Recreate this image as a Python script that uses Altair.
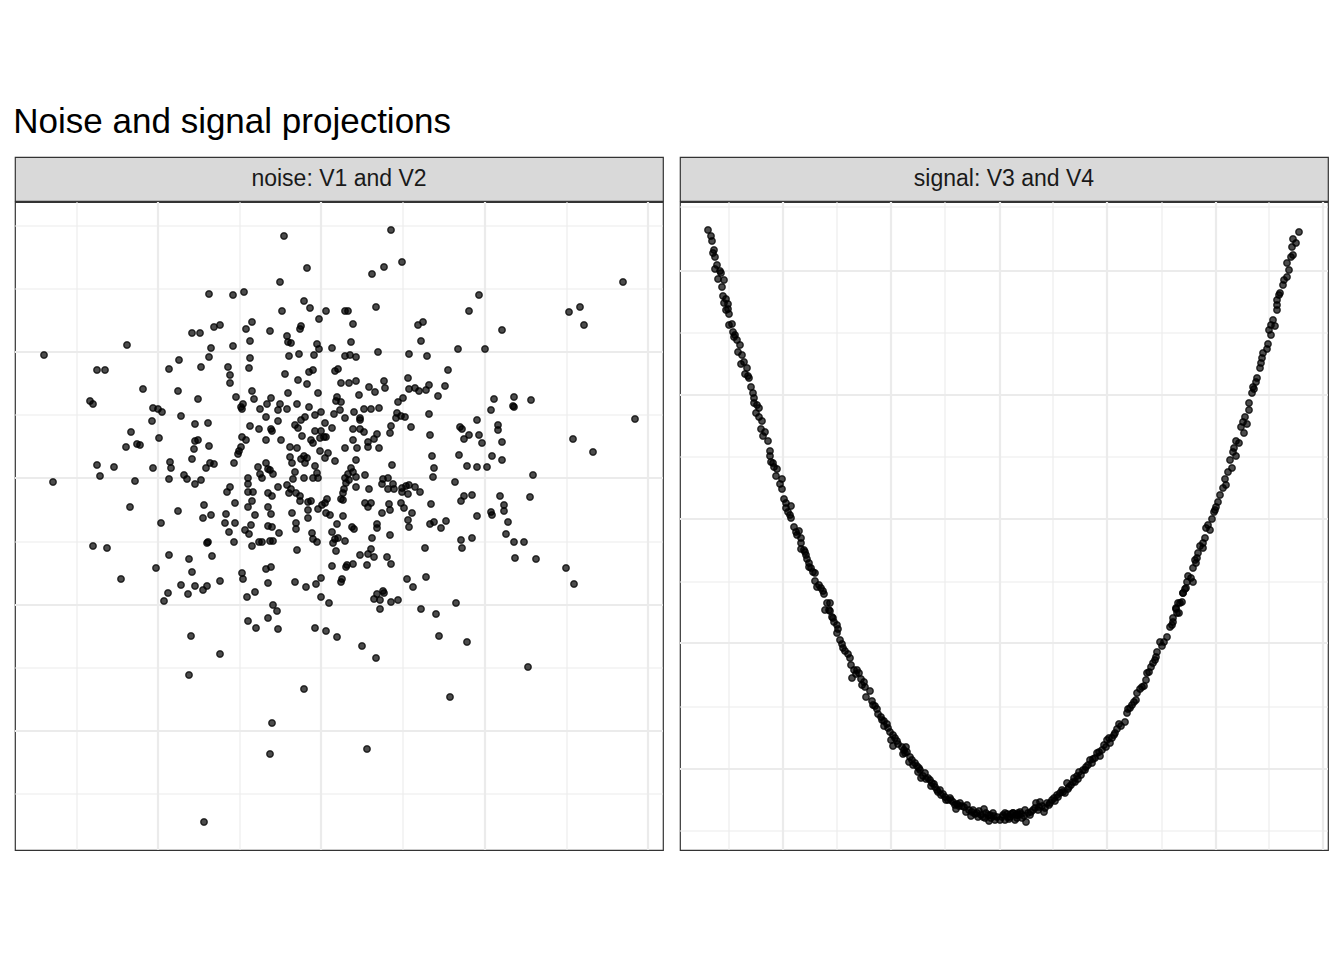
import altair as alt
import pandas as pd

TITLE = "Noise and signal projections"
STRIP_NOISE = "noise: V1 and V2"
STRIP_SIGNAL = "signal: V3 and V4"

# (V1, V2)
NOISE_POINTS = [
    (-1.12, 1.84), (-1.29, 1.45), (-1.21, 1.45), (-1.07, 1.51), (-1.01, 1.53), (-1.10, 1.30),
    (-1.94, 1.33), (-2.77, 1.23), (-1.42, 1.18), (-1.12, 1.21), (-2.24, 1.08), (-2.16, 1.08),
    (-1.52, 1.09), (-1.20, 1.11), (-0.93, 1.11), (-0.91, 1.03), (-0.91, 0.95), (-1.78, 0.89),
    (-1.43, 0.87), (-1.23, 0.79), (-2.31, 0.77), (-2.28, 0.74), (-1.68, 0.70), (-1.63, 0.69),
    (-1.59, 0.66), (-1.40, 0.62), (-1.69, 0.57), (-1.26, 0.54), (-1.13, 0.55), (-1.90, 0.46),
    (-1.62, 0.40), (-1.84, 0.34), (-1.81, 0.33), (-1.95, 0.31), (-1.26, 0.37), (-1.23, 0.38),
    (-1.27, 0.29), (-1.12, 0.32), (-2.24, 0.13), (-2.07, 0.11), (-2.21, 0.02), (-1.68, 0.10),
    (-1.51, 0.16), (-1.50, 0.10), (-1.29, 0.19), (-1.11, 0.15), (-1.07, 0.14), (-1.15, 0.10),
    (-2.68, -0.04), (-1.86, -0.03), (-1.52, -0.01), (-1.37, 0.03), (-1.34, -0.01), (-1.26, -0.06),
    (-1.20, -0.02), (-0.94, -0.14), (-0.91, -0.09), (-1.91, -0.29), (-1.43, -0.33), (-1.17, -0.27),
    (-1.18, -0.40), (-1.10, -0.37), (-0.95, -0.36), (-1.60, -0.45), (-0.96, -0.45),
    (-0.37, 2.42), (0.70, 2.48), (-0.14, 2.10), (-0.41, 1.96), (0.51, 2.04), (0.63, 2.11),
    (0.81, 2.16), (-0.88, 1.83), (-0.77, 1.86), (-0.17, 1.77), (-0.11, 1.70), (-0.39, 1.67),
    (0.05, 1.67), (0.24, 1.67), (0.27, 1.67), (0.55, 1.71), (-0.02, 1.59), (0.32, 1.54),
    (-0.75, 1.49), (-0.69, 1.56), (-0.51, 1.47), (-0.20, 1.52), (-0.21, 1.49), (0.97, 1.53),
    (1.02, 1.56), (-0.71, 1.37), (-0.34, 1.42), (-0.33, 1.36), (-0.30, 1.35), (-0.04, 1.34),
    (-0.02, 1.29), (0.11, 1.30), (0.30, 1.36), (1.00, 1.37), (-0.88, 1.32), (-0.32, 1.22),
    (-0.22, 1.24), (-0.07, 1.23), (0.24, 1.22), (0.29, 1.23), (0.35, 1.21), (0.57, 1.26),
    (0.88, 1.24), (1.06, 1.22), (-0.71, 1.20), (-0.72, 1.10), (-0.36, 1.04), (-0.12, 1.06),
    (-0.08, 1.08), (0.14, 1.07), (0.17, 1.09), (-0.23, 0.98), (-0.14, 0.94), (0.20, 0.95),
    (0.28, 0.95), (0.35, 0.97), (0.48, 0.91), (0.54, 0.86), (0.63, 0.97), (0.64, 0.90),
    (0.87, 1.00), (0.88, 0.89), (0.94, 0.90), (0.98, 0.87), (1.05, 0.88), (1.08, 0.93),
    (1.17, 0.82), (-0.69, 0.87), (-0.67, 0.79), (-0.85, 0.81), (-0.78, 0.74), (-0.80, 0.71),
    (-0.79, 0.69), (-0.33, 0.85), (-0.03, 0.85), (-0.50, 0.80), (-0.54, 0.74), (-0.61, 0.69),
    (-0.41, 0.74), (-0.43, 0.68), (-0.34, 0.69), (-0.24, 0.74), (-0.12, 0.71), (0.16, 0.81),
    (0.15, 0.77), (0.20, 0.76), (0.19, 0.68), (0.38, 0.83), (0.33, 0.66), (0.43, 0.69),
    (0.50, 0.69), (0.58, 0.70), (0.77, 0.76), (0.82, 0.80), (1.08, 0.64), (-0.55, 0.61),
    (-0.43, 0.57), (-0.20, 0.58), (-0.16, 0.61), (-0.06, 0.63), (0.00, 0.66), (0.13, 0.64),
    (0.24, 0.60), (0.39, 0.60), (0.39, 0.58), (0.75, 0.60), (0.76, 0.65), (0.80, 0.62),
    (0.84, 0.61), (-0.71, 0.52), (-0.62, 0.49), (-0.50, 0.49), (-0.49, 0.47), (-0.26, 0.53),
    (-0.23, 0.50), (-0.06, 0.47), (0.00, 0.47), (0.04, 0.55), (0.11, 0.50), (0.32, 0.49),
    (0.39, 0.49), (0.43, 0.46), (0.70, 0.52), (0.69, 0.45), (0.90, 0.51), (1.09, 0.43),
    (-0.79, 0.41), (-0.75, 0.38), (-0.55, 0.38), (-0.40, 0.38), (-0.19, 0.42), (-0.10, 0.38),
    (-0.08, 0.35), (-0.01, 0.40), (0.05, 0.41), (0.03, 0.41), (0.32, 0.38), (0.47, 0.36),
    (0.47, 0.31), (0.53, 0.39), (0.56, 0.44), (0.58, 0.30), (-0.80, 0.31), (-0.82, 0.27),
    (-0.83, 0.24), (-0.87, 0.15), (-0.31, 0.31), (-0.24, 0.30), (0.24, 0.30), (0.36, 0.30),
    (-0.01, 0.27), (0.07, 0.25), (-0.31, 0.21), (-0.29, 0.15), (-0.20, 0.19), (-0.17, 0.22),
    (-0.14, 0.20), (-0.16, 0.15), (-0.06, 0.12), (0.04, 0.20), (0.14, 0.17), (0.35, 0.18),
    (0.71, 0.13), (1.11, 0.22), (1.13, 0.10), (-0.63, 0.11), (-0.61, 0.04), (-0.59, 0.00),
    (-0.55, 0.15), (-0.53, 0.09), (-0.51, 0.08), (-0.48, 0.04), (-0.26, 0.06), (-0.28, -0.01),
    (-0.17, 0.00), (-0.08, 0.00), (-0.04, 0.05), (-0.03, 0.00), (0.24, 0.00), (0.27, 0.04),
    (0.30, 0.10), (0.32, 0.06), (0.35, 0.01), (0.44, 0.03), (0.28, -0.02), (0.25, -0.05),
    (0.23, -0.11), (0.22, -0.15), (0.22, -0.22), (0.35, -0.09), (0.48, -0.11), (0.62, -0.01),
    (0.67, 0.00), (0.61, -0.06), (0.72, -0.06), (0.73, -0.11), (0.67, -0.11), (0.81, -0.10),
    (0.85, -0.08), (0.88, -0.07), (0.87, -0.16), (0.81, -0.14), (0.94, -0.09), (0.99, -0.14),
    (1.12, 0.01), (-0.73, 0.00), (-0.73, -0.06), (-0.73, -0.14), (-0.68, -0.14), (-0.69, -0.23),
    (-0.86, -0.25), (-0.73, -0.29), (-0.66, -0.37), (-0.53, -0.15), (-0.49, -0.18), (-0.43, -0.09),
    (-0.34, -0.07), (-0.32, -0.15), (-0.30, -0.11), (-0.25, -0.15), (-0.21, -0.18), (-0.21, -0.23),
    (-0.13, -0.24), (-0.10, -0.23), (-0.03, -0.31), (0.01, -0.27), (0.04, -0.25), (0.06, -0.21),
    (0.05, -0.35), (0.09, -0.37), (0.20, -0.21), (0.22, -0.38), (0.44, -0.25), (0.47, -0.29),
    (0.50, -0.25), (0.61, -0.35), (0.68, -0.26), (0.69, -0.32), (0.80, -0.25), (0.83, -0.30),
    (0.91, -0.35), (1.10, -0.26), (-0.53, -0.29), (-0.50, -0.36), (-0.29, -0.35), (-0.13, -0.32),
    (-0.13, -0.40),
    (3.02, 1.96), (1.58, 1.83), (1.48, 1.67), (2.48, 1.66), (2.59, 1.71), (2.63, 1.53),
    (1.81, 1.48), (1.37, 1.29), (1.64, 1.29), (1.27, 1.08), (1.24, 0.92), (1.73, 0.79),
    (1.93, 0.81), (1.92, 0.72), (1.93, 0.71), (2.10, 0.78), (1.70, 0.68), (3.14, 0.59),
    (1.56, 0.58), (1.39, 0.51), (1.41, 0.49), (1.77, 0.53), (1.77, 0.48), (1.48, 0.43),
    (1.58, 0.43), (1.43, 0.39), (1.61, 0.35), (1.81, 0.36), (2.52, 0.39), (2.72, 0.26),
    (1.38, 0.23), (1.71, 0.22), (1.81, 0.18), (1.46, 0.12), (1.56, 0.11), (1.66, 0.11),
    (2.12, 0.03), (1.34, -0.04), (1.43, -0.18), (1.51, -0.17), (1.40, -0.23), (1.79, -0.18),
    (2.09, -0.19), (1.83, -0.27), (1.83, -0.33), (1.70, -0.34), (1.71, -0.37), (1.56, -0.38),
    (1.87, -0.44), (1.25, -0.43),
    (-0.92, -0.54), (-2.28, -0.68), (-2.14, -0.70), (-1.14, -0.65), (-1.13, -0.64), (-1.09, -0.78),
    (-1.52, -0.77), (-1.32, -0.81), (-1.65, -0.90), (-1.29, -0.94), (-2.00, -1.01), (-1.01, -1.03),
    (-1.40, -1.07), (-1.26, -1.08), (-1.14, -1.08), (-1.18, -1.12), (-1.53, -1.15), (-1.33, -1.16),
    (-1.57, -1.23), (-1.30, -1.58), (-1.01, -1.76), (-1.32, -1.97), (-1.17, -3.44),
    (-0.86, -0.45), (-0.70, -0.47), (-0.76, -0.52), (-0.72, -0.56), (-0.53, -0.48), (-0.49, -0.49),
    (-0.42, -0.55), (-0.25, -0.45), (-0.25, -0.51), (-0.09, -0.55), (0.11, -0.54), (0.16, -0.46),
    (0.31, -0.49), (0.33, -0.51), (0.56, -0.46), (0.56, -0.50), (0.69, -0.57), (0.88, -0.49),
    (0.87, -0.42), (1.09, -0.46), (1.13, -0.44), (1.20, -0.50), (-0.87, -0.64), (-0.69, -0.68),
    (-0.62, -0.64), (-0.59, -0.64), (-0.51, -0.63), (-0.48, -0.63), (-0.24, -0.72), (-0.08, -0.61),
    (-0.04, -0.64), (0.12, -0.65), (0.14, -0.61), (0.17, -0.60), (0.24, -0.63), (0.15, -0.73),
    (0.51, -0.60), (0.39, -0.77), (0.47, -0.76), (0.50, -0.71), (0.53, -0.79), (0.66, -0.79),
    (0.70, -0.86), (0.46, -0.87), (0.32, -0.86), (0.25, -0.89), (0.26, -0.87), (0.11, -0.88),
    (1.04, -0.70), (1.05, -0.99), (0.86, -1.01), (0.92, -1.09), (-0.79, -0.95), (-0.78, -1.01),
    (-0.55, -0.91), (-0.50, -0.89), (-0.53, -1.05), (-0.26, -1.04), (-0.15, -1.09), (-0.05, -1.06),
    (0.00, -1.00), (0.21, -1.01), (0.20, -1.04), (-0.74, -1.19), (-0.66, -1.14), (0.00, -1.19),
    (0.08, -1.25), (0.53, -1.21), (0.56, -1.16), (0.62, -1.13), (0.63, -1.15), (0.59, -1.22),
    (0.70, -1.24), (0.77, -1.22), (0.59, -1.31), (-0.48, -1.27), (-0.44, -1.33), (-0.53, -1.40),
    (-0.73, -1.43), (-0.65, -1.50), (-0.43, -1.51), (-0.06, -1.50), (0.05, -1.53), (0.16, -1.59),
    (0.41, -1.68), (0.55, -1.80), (1.00, -1.31), (1.15, -1.36), (1.18, -1.58), (-0.17, -2.11),
    (-0.49, -2.45), (-0.51, -2.76), (0.46, -2.71),
    (1.85, -0.56), (1.40, -0.62), (1.51, -0.60), (1.41, -0.70), (1.93, -0.64), (2.03, -0.64),
    (1.94, -0.80), (2.15, -0.81), (2.45, -0.90), (2.53, -1.06), (1.35, -1.25), (1.46, -1.64),
    (2.07, -1.89), (1.29, -2.19),
]

# (V3, V4)
SIGNAL_POINTS = [
    (-2.92, 6.20), (-2.89, 6.14), (-2.88, 6.09), (-2.86, 6.00), (-2.87, 5.97), (-2.85, 5.93),
    (-2.85, 5.81), (-2.80, 5.79), (-2.79, 5.77), (-2.82, 5.71), (-2.76, 5.70), (-2.78, 5.63),
    (-2.77, 5.54), (-2.74, 5.51), (-2.76, 5.47), (-2.72, 5.46), (-2.72, 5.41), (-2.71, 5.36),
    (-2.71, 5.25), (-2.68, 5.26), (-2.67, 5.18), (-2.65, 5.15), (-2.63, 5.10), (-2.60, 5.05),
    (-2.62, 4.98), (-2.58, 4.95), (-2.59, 4.86), (-2.53, 4.82), (-2.55, 4.76), (-2.51, 4.72),
    (-2.49, 4.63), (-2.47, 4.57), (-2.46, 4.52), (-2.46, 4.47), (-2.41, 4.42), (-2.44, 4.37),
    (-2.41, 4.33), (-2.38, 4.29), (-2.39, 4.21), (-2.37, 4.14), (-2.32, 4.09), (-2.30, 3.99),
    (-2.30, 3.94), (-2.29, 3.88), (-2.27, 3.87), (-2.23, 3.81), (-2.24, 3.74), (-2.18, 3.71),
    (-2.18, 3.61), (-2.16, 3.51), (-2.14, 3.47), (-2.09, 3.44), (-2.14, 3.42), (-2.10, 3.35),
    (-2.09, 3.32), (-2.06, 3.23), (-2.01, 3.19), (-2.04, 3.18), (-1.99, 3.12), (-1.99, 3.07),
    (-1.96, 3.00), (-1.99, 3.01), (-1.94, 2.95), (-1.93, 2.91), (-1.91, 2.87), (-1.91, 2.83),
    (-1.87, 2.78), (-1.85, 2.77), (-1.85, 2.69), (-1.83, 2.63), (-1.79, 2.62), (-1.77, 2.59),
    (-1.76, 2.56), (-1.73, 2.47), (-1.75, 2.40), (-1.71, 2.40), (-1.68, 2.33),
    (-1.70, 2.47), (-1.70, 2.39), (-1.67, 2.32), (-1.66, 2.28), (-1.63, 2.25), (-1.62, 2.21),
    (-1.63, 2.17), (-1.60, 2.10), (-1.57, 2.02), (-1.55, 1.99), (-1.52, 1.96), (-1.49, 1.85),
    (-1.46, 1.80), (-1.43, 1.80), (-1.41, 1.77), (-1.48, 1.72), (-1.39, 1.71), (-1.38, 1.65),
    (-1.35, 1.63), (-1.30, 1.59), (-1.34, 1.53), (-1.28, 1.49), (-1.27, 1.45), (-1.23, 1.41),
    (-1.22, 1.36), (-1.19, 1.33), (-1.16, 1.29), (-1.13, 1.26), (-1.10, 1.18), (-1.07, 1.15),
    (-1.07, 1.04), (-1.02, 1.06), (-0.98, 1.03), (-0.94, 1.03), (-0.95, 0.97), (-0.90, 0.93),
    (-0.91, 0.88), (-0.85, 0.87), (-0.83, 0.84), (-0.82, 0.78), (-0.79, 0.72), (-0.75, 0.77),
    (-0.72, 0.72), (-0.68, 0.67), (-0.65, 0.63), (-0.62, 0.58), (-0.59, 0.55), (-0.55, 0.53),
    (-0.52, 0.50), (-0.47, 0.48), (-0.43, 0.46), (-0.40, 0.47), (-0.36, 0.43), (-0.33, 0.45),
    (-0.29, 0.34), (-0.27, 0.40), (-0.23, 0.37), (-0.21, 0.39), (-0.16, 0.41), (-0.17, 0.33),
    (-0.11, 0.29), (-0.12, 0.35), (-0.07, 0.37), (-0.03, 0.33), (0.00, 0.30), (0.03, 0.35),
    (0.08, 0.33), (0.13, 0.37), (0.17, 0.32), (0.18, 0.37),
    (0.02, 0.33), (0.05, 0.37), (0.10, 0.33), (0.13, 0.37), (0.18, 0.35), (0.22, 0.32),
    (0.26, 0.28), (0.25, 0.40), (0.30, 0.35), (0.33, 0.40), (0.36, 0.47), (0.40, 0.48),
    (0.44, 0.38), (0.47, 0.47), (0.52, 0.50), (0.55, 0.49), (0.58, 0.53), (0.62, 0.60),
    (0.65, 0.57), (0.67, 0.67), (0.71, 0.65), (0.75, 0.68), (0.78, 0.71), (0.79, 0.78),
    (0.83, 0.80), (0.88, 0.85), (0.92, 0.87), (0.97, 0.97), (1.00, 0.94), (1.02, 1.00),
    (1.06, 1.03), (1.07, 1.10), (1.10, 1.07), (1.15, 1.17), (1.17, 1.21), (1.19, 1.26),
    (1.25, 1.28), (1.27, 1.37), (1.28, 1.41), (1.32, 1.45), (1.36, 1.50), (1.37, 1.57),
    (1.40, 1.61), (1.44, 1.64), (1.46, 1.70), (1.47, 1.77), (1.51, 1.83), (1.53, 1.87),
    (1.56, 1.93), (1.57, 1.98), (1.62, 2.04), (1.60, 2.08), (1.67, 2.13), (1.70, 2.23),
    (1.73, 2.28), (1.77, 2.37), (1.76, 2.42), (1.80, 2.47), (1.83, 2.57), (1.85, 2.61),
    (1.87, 2.68),
    (2.99, 6.18), (2.93, 6.11), (2.96, 6.07), (2.92, 6.03), (2.93, 5.95), (2.91, 5.93),
    (2.87, 5.87), (2.87, 5.73), (2.84, 5.70), (2.83, 5.65), (2.80, 5.57), (2.77, 5.50),
    (2.77, 5.45), (2.77, 5.40), (2.73, 5.30), (2.71, 5.25), (2.75, 5.24), (2.71, 5.15),
    (2.68, 5.06), (2.67, 5.01), (2.63, 4.97), (2.61, 4.87), (2.60, 4.82), (2.57, 4.72),
    (2.56, 4.68), (2.54, 4.61), (2.52, 4.57), (2.49, 4.47), (2.49, 4.40), (2.45, 4.33),
    (2.47, 4.26), (2.41, 4.23), (2.44, 4.17), (2.36, 4.09), (2.39, 4.07), (2.34, 4.02),
    (2.36, 3.94), (2.30, 3.90), (2.32, 3.82), (2.28, 3.78), (2.25, 3.71), (2.26, 3.65),
    (2.20, 3.55), (2.18, 3.48), (2.16, 3.43), (2.14, 3.38), (2.12, 3.31), (2.06, 3.22),
    (2.10, 3.20), (2.05, 3.12), (2.03, 3.07), (2.03, 3.02), (1.98, 2.97), (1.97, 2.92),
    (1.96, 2.87), (1.93, 2.82), (1.91, 2.72), (1.93, 2.68), (1.86, 2.62), (1.83, 2.57),
    (1.82, 2.48), (1.78, 2.47), (1.76, 2.41), (1.79, 2.37), (1.73, 2.32),
    (-1.58, 2.06), (-1.50, 1.92), (-1.44, 1.76), (-1.36, 1.68), (-1.25, 1.44), (-1.18, 1.30),
    (-1.12, 1.22), (-1.05, 1.12), (-0.96, 1.00), (-0.88, 0.90), (-0.80, 0.80), (-0.77, 0.74),
    (-0.70, 0.70), (-0.63, 0.60), (-0.57, 0.56), (-0.50, 0.52), (-0.45, 0.45), (-0.38, 0.44),
    (-0.31, 0.40), (-0.25, 0.36), (-0.19, 0.35), (-0.14, 0.37), (-0.09, 0.32), (-0.05, 0.30),
    (0.05, 0.30), (0.11, 0.36), (0.15, 0.30), (0.20, 0.38), (0.28, 0.37), (0.35, 0.42),
    (0.38, 0.40), (0.42, 0.44), (0.49, 0.45), (0.57, 0.55), (0.60, 0.57), (0.69, 0.63),
    (0.73, 0.68), (0.81, 0.75), (0.86, 0.83), (0.90, 0.90), (0.95, 0.92), (1.04, 1.05),
    (1.12, 1.12), (1.21, 1.24), (1.30, 1.42), (1.34, 1.48), (1.42, 1.63), (1.49, 1.78),
    (1.55, 1.90), (1.64, 2.08), (1.72, 2.25),
    (-2.83, 5.85), (-2.74, 5.40), (-2.66, 5.13), (-2.56, 4.88), (-2.52, 4.74), (-2.43, 4.45),
    (-2.35, 4.18), (-2.26, 3.83), (-2.20, 3.66), (-2.12, 3.38), (-2.03, 3.15), (-1.95, 2.98),
    (-1.89, 2.82), (-1.81, 2.65),
    (2.89, 5.80), (2.79, 5.55), (2.69, 5.20), (2.62, 4.92), (2.53, 4.63), (2.43, 4.28),
    (2.33, 3.98), (2.23, 3.62), (2.15, 3.40), (2.08, 3.25), (2.00, 3.04), (1.95, 2.90),
    (1.88, 2.74),
    (-1.16, 1.24), (-1.09, 1.10), (-1.03, 1.09), (-0.97, 0.96), (-0.93, 0.98), (-0.87, 0.85),
    (-0.81, 0.82), (-0.74, 0.71), (-0.69, 0.64), (-0.66, 0.66), (-0.60, 0.60), (-0.54, 0.50),
    (-0.49, 0.50), (-0.44, 0.41), (-0.41, 0.44), (-0.34, 0.38), (-0.28, 0.38), (-0.22, 0.33),
    (-0.15, 0.32), (-0.10, 0.35), (-0.06, 0.34), (0.07, 0.36), (0.09, 0.31), (0.16, 0.35),
    (0.21, 0.36), (0.24, 0.34), (0.31, 0.38), (0.39, 0.43), (0.45, 0.42), (0.50, 0.47),
    (0.54, 0.52), (0.63, 0.58), (0.68, 0.61), (0.74, 0.72), (0.77, 0.74), (0.85, 0.80),
    (0.93, 0.91), (0.99, 0.98), (1.09, 1.12), (1.14, 1.15),
]

# panel scale limits and grid breaks (free scales per panel)
NOISE_X_DOMAIN = [-3.06, 3.42]
NOISE_Y_DOMAIN = [-3.72, 2.76]
NOISE_X_MAJOR = [-1.63, 0.0, 1.64, 3.27]
NOISE_X_MINOR = [-2.44, -0.81, 0.82, 2.46]
NOISE_Y_MAJOR = [-2.53, -1.27, 0.0, 1.26]
NOISE_Y_MINOR = [-3.16, -1.90, -0.64, 0.63, 1.89, 2.52]

SIGNAL_X_DOMAIN = [-3.20, 3.28]
SIGNAL_Y_DOMAIN = [0.0, 6.48]
SIGNAL_X_MAJOR = [-2.17, -1.09, 0.0, 1.07, 2.16, 3.23]
SIGNAL_X_MINOR = [-2.71, -1.63, -0.55, 0.53, 1.62, 2.69]
SIGNAL_Y_MAJOR = [0.81, 2.07, 3.31, 4.55, 5.79]
SIGNAL_Y_MINOR = [0.19, 1.43, 2.68, 3.93, 5.17, 6.43]

FONT = "Liberation Sans"
W = 648
H = 648
STRIP_H = 44
GRID = "#EBEBEB"
BORDER = "#333333"


def panel(points, label, xdom, ydom, xmaj, xmin, ymaj, ymin):
    df = pd.DataFrame(points, columns=["x", "y"])
    xs = alt.Scale(domain=xdom, nice=False, zero=False)
    ys = alt.Scale(domain=ydom, nice=False, zero=False)

    def vrules(vals, width):
        return alt.Chart(pd.DataFrame({"v": vals})).mark_rule(
            color=GRID, strokeWidth=width
        ).encode(x=alt.X("v:Q", scale=xs, axis=None))

    def hrules(vals, width):
        return alt.Chart(pd.DataFrame({"v": vals})).mark_rule(
            color=GRID, strokeWidth=width
        ).encode(y=alt.Y("v:Q", scale=ys, axis=None))

    pts = alt.Chart(df).mark_circle(
        fill="black", fillOpacity=0.7, stroke="black", strokeOpacity=0.7,
        strokeWidth=1.5, size=42, clip=True
    ).encode(
        x=alt.X("x:Q", scale=xs, axis=None),
        y=alt.Y("y:Q", scale=ys, axis=None),
    )

    plot = alt.layer(
        vrules(xmin, 1.1), hrules(ymin, 1.1),
        vrules(xmaj, 2.2), hrules(ymaj, 2.2),
        pts,
    ).properties(
        width=W, height=H,
        view=alt.ViewBackground(fill="white", stroke=BORDER, strokeWidth=1.2),
    )

    strip = alt.Chart(pd.DataFrame({"label": [label]})).mark_text(
        font=FONT, fontSize=23, color="#1A1A1A", baseline="middle", dy=0
    ).encode(
        text="label:N",
        x=alt.X("label:N", axis=None),
        y=alt.Y("label:N", axis=None),
    ).properties(
        width=W, height=STRIP_H,
        view=alt.ViewBackground(fill="#D9D9D9", stroke=BORDER, strokeWidth=1.2),
    )
    return alt.vconcat(strip, plot, spacing=-3)


left = panel(NOISE_POINTS, STRIP_NOISE, NOISE_X_DOMAIN, NOISE_Y_DOMAIN,
             NOISE_X_MAJOR, NOISE_X_MINOR, NOISE_Y_MAJOR, NOISE_Y_MINOR)
right = panel(SIGNAL_POINTS, STRIP_SIGNAL, SIGNAL_X_DOMAIN, SIGNAL_Y_DOMAIN,
              SIGNAL_X_MAJOR, SIGNAL_X_MINOR, SIGNAL_Y_MAJOR, SIGNAL_Y_MINOR)

chart = alt.hconcat(left, right, spacing=13).properties(
    title=alt.TitleParams(
        TITLE, anchor="start", font=FONT, fontSize=35, fontWeight="normal",
        color="black", offset=16, dx=0,
    ),
    padding={"left": 5, "top": 97, "right": 4, "bottom": 4},
    background="white",
).configure_concat(spacing=0)

chart.save("out.html", embed_options={"renderer": "svg", "actions": False})
